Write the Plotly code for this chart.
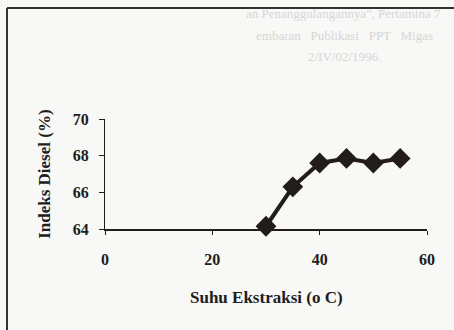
import plotly.graph_objects as go

# Data
suhu = [30, 35, 40, 45, 50, 55]
indeks = [64.15, 66.3, 67.6, 67.85, 67.6, 67.85]
x_ticks = [0, 20, 40, 60]
y_ticks = [64, 66, 68, 70]
x_title = "Suhu Ekstraksi (o C)"
y_title = "Indeks Diesel (%)"
bleed_lines = ['an Penanggulangannya", Pertamina 7',
               'embaran   Publikasi   PPT   Migas',
               '2/IV/02/1996.']

ink = "#221c1c"
paper = "#f8f8f6"
font = "Liberation Serif"

fig = go.Figure()
fig.add_trace(go.Scatter(
    x=suhu, y=indeks, mode="lines+markers",
    line=dict(color=ink, width=4),
    marker=dict(symbol="diamond", size=16, color=ink, line=dict(width=0)),
    showlegend=False, cliponaxis=False, hoverinfo="skip",
))

fig.update_layout(
    width=454, height=330,
    margin=dict(l=105, r=27, t=119, b=101),
    paper_bgcolor=paper, plot_bgcolor=paper,
    font=dict(family=font, color=ink),
    xaxis=dict(range=[0, 60], tickvals=x_ticks, showgrid=False, zeroline=False,
               showline=True, linecolor=ink, linewidth=2,
               ticks="outside", ticklen=4, tickcolor=ink, tickwidth=1,
               tickfont=dict(family=font, size=16, color=ink, weight="bold"),
               ticklabelstandoff=11),
    yaxis=dict(range=[64, 70], tickvals=y_ticks, showgrid=False, zeroline=False,
               showline=True, linecolor=ink, linewidth=1,
               ticks="outside", ticklen=5, tickcolor=ink, tickwidth=1,
               tickfont=dict(family=font, size=16, color=ink, weight="bold"),
               ticklabelstandoff=7),
)

annotations = [
    dict(text=f"<b>{x_title}</b>", x=0.5, y=-0.62, xref="paper", yref="paper",
         showarrow=False, font=dict(family=font, size=17, color=ink),
         xanchor="center", yanchor="middle"),
    dict(text=f"<b>{y_title}</b>", x=-0.19, y=0.5, xref="paper", yref="paper",
         showarrow=False, textangle=-90, font=dict(family=font, size=17, color=ink),
         xanchor="center", yanchor="middle"),
]
bleed_pos = [(244, 13), (254, 35), (306, 57)]
for txt, (px, py) in zip(bleed_lines, bleed_pos):
    annotations.append(dict(
        text=txt, x=(px - 105) / 322, y=(229 - py) / 110, xref="paper", yref="paper",
        showarrow=False, xanchor="left", yanchor="middle",
        font=dict(family=font, size=13, color="#d6d6d6")))
fig.update_layout(annotations=annotations)

# scanned page frame (left and top border)
fig.add_shape(type="line", xref="paper", yref="paper",
              x0=(7 - 105) / 322, x1=(7 - 105) / 322, y0=(229 - 8) / 110, y1=(229 - 332) / 110,
              line=dict(color="#3a3232", width=2))
fig.add_shape(type="line", xref="paper", yref="paper",
              x0=(7 - 105) / 322, x1=(456 - 105) / 322, y0=(229 - 8) / 110, y1=(229 - 8) / 110,
              line=dict(color="#3a3232", width=2))

fig.write_html("out.html", config={"displayModeBar": False})
with open("out.html", encoding="utf-8") as f:
    html = f.read()
html = html.replace("<body>", '<body style="margin:0;padding:0;">', 1)
with open("out.html", "w", encoding="utf-8") as f:
    f.write(html)
